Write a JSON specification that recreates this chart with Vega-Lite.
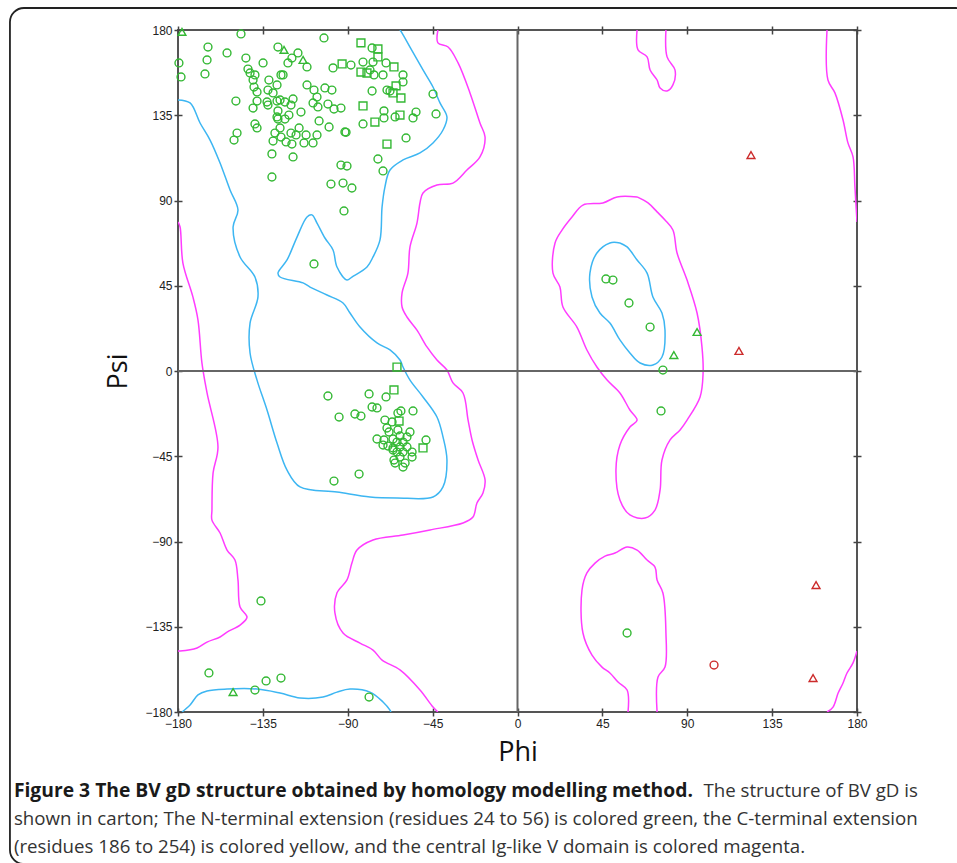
{
  "$schema": "https://vega.github.io/schema/vega-lite/v6.json",
  "width": 679,
  "height": 682,
  "autosize": {"type": "none"},
  "padding": {"left": 178, "top": 30, "right": 100, "bottom": 151},
  "background": "white",
  "config": {
    "view": {"stroke": "#555555", "strokeWidth": 2},
    "axis": {"grid": false}
  },
  "datasets": {
    "contours": [
      {"id":"C1","ord":0,"phi":-180,"psi":143.1},{"id":"C1","ord":1,"phi":-173.6,"psi":141.5},{"id":"C1","ord":2,"phi":-168.3,"psi":130.9},{"id":"C1","ord":3,"phi":-163.0,"psi":121.9},{"id":"C1","ord":4,"phi":-157.7,"psi":109.8},{"id":"C1","ord":5,"phi":-152.4,"psi":95.5},{"id":"C1","ord":6,"phi":-148.2,"psi":85.0},{"id":"C1","ord":7,"phi":-150.8,"psi":76.0},{"id":"C1","ord":8,"phi":-147.1,"psi":60.2},{"id":"C1","ord":9,"phi":-139.2,"psi":49.6},{"id":"C1","ord":10,"phi":-137.6,"psi":39.1},{"id":"C1","ord":11,"phi":-141.8,"psi":25.3},{"id":"C1","ord":12,"phi":-141.8,"psi":9.5},{"id":"C1","ord":13,"phi":-138.1,"psi":-4.8},{"id":"C1","ord":14,"phi":-132.8,"psi":-20.6},{"id":"C1","ord":15,"phi":-127.5,"psi":-38.0},{"id":"C1","ord":16,"phi":-122.2,"psi":-52.3},{"id":"C1","ord":17,"phi":-115.3,"psi":-61.2},{"id":"C1","ord":18,"phi":-95.7,"psi":-63.9},{"id":"C1","ord":19,"phi":-78.2,"psi":-66.5},{"id":"C1","ord":20,"phi":-63.9,"psi":-67.0},{"id":"C1","ord":21,"phi":-44.8,"psi":-66.5},{"id":"C1","ord":22,"phi":-39.5,"psi":-61.2},{"id":"C1","ord":23,"phi":-37.4,"psi":-47.0},{"id":"C1","ord":24,"phi":-39.5,"psi":-34.8},{"id":"C1","ord":25,"phi":-42.7,"psi":-24.3},{"id":"C1","ord":26,"phi":-50.1,"psi":-13.7},{"id":"C1","ord":27,"phi":-57.0,"psi":-4.8},{"id":"C1","ord":28,"phi":-60.7,"psi":2.1},{"id":"C1","ord":29,"phi":-62.3,"psi":5.8},{"id":"C1","ord":30,"phi":-67.6,"psi":11.1},{"id":"C1","ord":31,"phi":-74.5,"psi":14.8},{"id":"C1","ord":32,"phi":-83.5,"psi":23.2},{"id":"C1","ord":33,"phi":-88.8,"psi":30.6},{"id":"C1","ord":34,"phi":-92.5,"psi":35.9},{"id":"C1","ord":35,"phi":-101.0,"psi":40.1},{"id":"C1","ord":36,"phi":-110.0,"psi":44.3},{"id":"C1","ord":37,"phi":-113.7,"psi":46.5},{"id":"C1","ord":38,"phi":-125.9,"psi":49.6},{"id":"C1","ord":39,"phi":-127.0,"psi":51.7},{"id":"C1","ord":40,"phi":-122.2,"psi":58.6},{"id":"C1","ord":41,"phi":-116.9,"psi":70.7},{"id":"C1","ord":42,"phi":-111.6,"psi":81.3},{"id":"C1","ord":43,"phi":-109.0,"psi":82.4},{"id":"C1","ord":44,"phi":-106.3,"psi":78.1},{"id":"C1","ord":45,"phi":-102.1,"psi":70.2},{"id":"C1","ord":46,"phi":-97.8,"psi":63.9},{"id":"C1","ord":47,"phi":-95.7,"psi":54.9},{"id":"C1","ord":48,"phi":-90.4,"psi":48.0},{"id":"C1","ord":49,"phi":-87.8,"psi":49.6},{"id":"C1","ord":50,"phi":-79.8,"psi":54.9},{"id":"C1","ord":51,"phi":-76.6,"psi":60.2},{"id":"C1","ord":52,"phi":-72.9,"psi":69.2},{"id":"C1","ord":53,"phi":-71.8,"psi":86.6},{"id":"C1","ord":54,"phi":-70.3,"psi":97.1},{"id":"C1","ord":55,"phi":-67.6,"psi":106.1},{"id":"C1","ord":56,"phi":-60.7,"psi":111.4},{"id":"C1","ord":57,"phi":-51.7,"psi":115.1},{"id":"C1","ord":58,"phi":-44.8,"psi":120.4},{"id":"C1","ord":59,"phi":-39.5,"psi":127.2},{"id":"C1","ord":60,"phi":-37.4,"psi":134.1},{"id":"C1","ord":61,"phi":-41.1,"psi":141.5},{"id":"C1","ord":62,"phi":-44.8,"psi":149.9},{"id":"C1","ord":63,"phi":-50.1,"psi":158.9},{"id":"C1","ord":64,"phi":-57.0,"psi":171.0},{"id":"C1","ord":65,"phi":-61.2,"psi":178.4},{"id":"C1","ord":66,"phi":-62.3,"psi":180},
      {"id":"C2","ord":0,"phi":-177.9,"psi":-180},{"id":"C2","ord":1,"phi":-173.6,"psi":-176.3},{"id":"C2","ord":2,"phi":-169.4,"psi":-171.0},{"id":"C2","ord":3,"phi":-164.6,"psi":-168.9},{"id":"C2","ord":4,"phi":-154.0,"psi":-167.9},{"id":"C2","ord":5,"phi":-138.1,"psi":-167.9},{"id":"C2","ord":6,"phi":-125.9,"psi":-170.0},{"id":"C2","ord":7,"phi":-115.3,"psi":-172.6},{"id":"C2","ord":8,"phi":-103.1,"psi":-172.1},{"id":"C2","ord":9,"phi":-95.7,"psi":-169.5},{"id":"C2","ord":10,"phi":-88.8,"psi":-167.9},{"id":"C2","ord":11,"phi":-78.2,"psi":-169.5},{"id":"C2","ord":12,"phi":-71.3,"psi":-174.7},{"id":"C2","ord":13,"phi":-67.6,"psi":-179.0},{"id":"C2","ord":14,"phi":-67.1,"psi":-180},
      {"id":"C3","ord":0,"phi":54.3,"psi":67.6},{"id":"C3","ord":1,"phi":49.0,"psi":67.6},{"id":"C3","ord":2,"phi":42.1,"psi":62.3},{"id":"C3","ord":3,"phi":38.4,"psi":51.7},{"id":"C3","ord":4,"phi":39.5,"psi":39.1},{"id":"C3","ord":5,"phi":43.7,"psi":30.6},{"id":"C3","ord":6,"phi":49.0,"psi":25.3},{"id":"C3","ord":7,"phi":54.3,"psi":16.4},{"id":"C3","ord":8,"phi":59.6,"psi":9.5},{"id":"C3","ord":9,"phi":65.0,"psi":4.2},{"id":"C3","ord":10,"phi":71.8,"psi":3.2},{"id":"C3","ord":11,"phi":76.6,"psi":7.4},{"id":"C3","ord":12,"phi":78.2,"psi":21.6},{"id":"C3","ord":13,"phi":76.6,"psi":30.6},{"id":"C3","ord":14,"phi":71.8,"psi":39.1},{"id":"C3","ord":15,"phi":68.7,"psi":51.7},{"id":"C3","ord":16,"phi":63.4,"psi":58.6},{"id":"C3","ord":17,"phi":58.1,"psi":65.5},{"id":"C3","ord":18,"phi":54.3,"psi":67.6},
      {"id":"M1","ord":0,"phi":-180,"psi":78.7},{"id":"M1","ord":1,"phi":-178.9,"psi":76.0},{"id":"M1","ord":2,"phi":-177.4,"psi":57.0},{"id":"M1","ord":3,"phi":-172.1,"psi":39.1},{"id":"M1","ord":4,"phi":-169.4,"psi":26.9},{"id":"M1","ord":5,"phi":-167.3,"psi":4.2},{"id":"M1","ord":6,"phi":-164.6,"psi":-11.6},{"id":"M1","ord":7,"phi":-158.8,"psi":-40.1},{"id":"M1","ord":8,"phi":-161.4,"psi":-53.8},{"id":"M1","ord":9,"phi":-162.0,"psi":-73.4},{"id":"M1","ord":10,"phi":-162.0,"psi":-78.7},{"id":"M1","ord":11,"phi":-157.7,"psi":-85.5},{"id":"M1","ord":12,"phi":-154.0,"psi":-94.5},{"id":"M1","ord":13,"phi":-149.8,"psi":-99.8},{"id":"M1","ord":14,"phi":-148.2,"psi":-110.3},{"id":"M1","ord":15,"phi":-147.1,"psi":-124.6},{"id":"M1","ord":16,"phi":-143.4,"psi":-129.9},{"id":"M1","ord":17,"phi":-147.1,"psi":-134.1},{"id":"M1","ord":18,"phi":-154.0,"psi":-137.8},{"id":"M1","ord":19,"phi":-157.7,"psi":-140.4},{"id":"M1","ord":20,"phi":-164.6,"psi":-143.1},{"id":"M1","ord":21,"phi":-169.9,"psi":-146.2},{"id":"M1","ord":22,"phi":-178.9,"psi":-147.8},{"id":"M1","ord":23,"phi":-180,"psi":-147.8},
      {"id":"M2","ord":0,"phi":-42.2,"psi":180},{"id":"M2","ord":1,"phi":-42.2,"psi":173.2},{"id":"M2","ord":2,"phi":-36.8,"psi":171.0},{"id":"M2","ord":3,"phi":-31.5,"psi":162.6},{"id":"M2","ord":4,"phi":-25.2,"psi":146.8},{"id":"M2","ord":5,"phi":-19.9,"psi":130.9},{"id":"M2","ord":6,"phi":-17.2,"psi":123.5},{"id":"M2","ord":7,"phi":-19.9,"psi":113.0},{"id":"M2","ord":8,"phi":-26.8,"psi":106.1},{"id":"M2","ord":9,"phi":-34.2,"psi":99.2},{"id":"M2","ord":10,"phi":-42.7,"psi":98.2},{"id":"M2","ord":11,"phi":-50.1,"psi":94.0},{"id":"M2","ord":12,"phi":-51.7,"psi":88.7},{"id":"M2","ord":13,"phi":-53.3,"psi":78.1},{"id":"M2","ord":14,"phi":-57.0,"psi":65.5},{"id":"M2","ord":15,"phi":-58.1,"psi":51.7},{"id":"M2","ord":16,"phi":-61.2,"psi":41.2},{"id":"M2","ord":17,"phi":-61.2,"psi":33.8},{"id":"M2","ord":18,"phi":-58.6,"psi":28.5},{"id":"M2","ord":19,"phi":-53.3,"psi":21.6},{"id":"M2","ord":20,"phi":-48.0,"psi":12.7},{"id":"M2","ord":21,"phi":-42.7,"psi":5.8},{"id":"M2","ord":22,"phi":-37.4,"psi":0.5},{"id":"M2","ord":23,"phi":-34.2,"psi":-6.3},{"id":"M2","ord":24,"phi":-28.9,"psi":-11.6},{"id":"M2","ord":25,"phi":-26.2,"psi":-25.9},{"id":"M2","ord":26,"phi":-24.1,"psi":-36.4},{"id":"M2","ord":27,"phi":-20.9,"psi":-47.0},{"id":"M2","ord":28,"phi":-17.2,"psi":-57.5},{"id":"M2","ord":29,"phi":-18.3,"psi":-64.4},{"id":"M2","ord":30,"phi":-21.5,"psi":-69.7},{"id":"M2","ord":31,"phi":-23.6,"psi":-77.1},{"id":"M2","ord":32,"phi":-28.9,"psi":-80.2},{"id":"M2","ord":33,"phi":-46.4,"psi":-83.9},{"id":"M2","ord":34,"phi":-60.7,"psi":-86.6},{"id":"M2","ord":35,"phi":-76.6,"psi":-89.2},{"id":"M2","ord":36,"phi":-85.1,"psi":-94.5},{"id":"M2","ord":37,"phi":-87.8,"psi":-101.4},{"id":"M2","ord":38,"phi":-90.4,"psi":-110.3},{"id":"M2","ord":39,"phi":-95.7,"psi":-117.1},{"id":"M2","ord":40,"phi":-96.8,"psi":-127.7},{"id":"M2","ord":41,"phi":-92.5,"psi":-138.3},{"id":"M2","ord":42,"phi":-83.5,"psi":-143.6},{"id":"M2","ord":43,"phi":-76.6,"psi":-147.3},{"id":"M2","ord":44,"phi":-71.8,"psi":-152.6},{"id":"M2","ord":45,"phi":-62.3,"psi":-157.8},{"id":"M2","ord":46,"phi":-51.7,"psi":-168.4},{"id":"M2","ord":47,"phi":-44.8,"psi":-177.4},{"id":"M2","ord":48,"phi":-42.2,"psi":-180},
      {"id":"M3","ord":0,"phi":164.1,"psi":180},{"id":"M3","ord":1,"phi":164.6,"psi":153.6},{"id":"M3","ord":2,"phi":168.3,"psi":146.8},{"id":"M3","ord":3,"phi":172.6,"psi":132.5},{"id":"M3","ord":4,"phi":175.2,"psi":120.4},{"id":"M3","ord":5,"phi":177.9,"psi":113.0},{"id":"M3","ord":6,"phi":178.9,"psi":97.1},{"id":"M3","ord":7,"phi":180,"psi":78.7},
      {"id":"M4","ord":0,"phi":63.4,"psi":180},{"id":"M4","ord":1,"phi":63.9,"psi":169.5},{"id":"M4","ord":2,"phi":68.7,"psi":165.8},{"id":"M4","ord":3,"phi":70.3,"psi":158.9},{"id":"M4","ord":4,"phi":74.0,"psi":153.6},{"id":"M4","ord":5,"phi":75.6,"psi":149.4},{"id":"M4","ord":6,"phi":79.3,"psi":147.8},{"id":"M4","ord":7,"phi":82.4,"psi":151.0},{"id":"M4","ord":8,"phi":83.5,"psi":158.9},{"id":"M4","ord":9,"phi":79.3,"psi":165.8},{"id":"M4","ord":10,"phi":78.7,"psi":180},
      {"id":"M5","ord":0,"phi":58.6,"psi":-180},{"id":"M5","ord":1,"phi":58.1,"psi":-168.4},{"id":"M5","ord":2,"phi":53.3,"psi":-164.2},{"id":"M5","ord":3,"phi":49.0,"psi":-159.4},{"id":"M5","ord":4,"phi":44.8,"psi":-156.3},{"id":"M5","ord":5,"phi":39.5,"psi":-150.0},{"id":"M5","ord":6,"phi":34.7,"psi":-138.3},{"id":"M5","ord":7,"phi":34.2,"psi":-115.6},{"id":"M5","ord":8,"phi":36.8,"psi":-106.6},{"id":"M5","ord":9,"phi":41.1,"psi":-101.4},{"id":"M5","ord":10,"phi":46.4,"psi":-97.7},{"id":"M5","ord":11,"phi":51.7,"psi":-96.1},{"id":"M5","ord":12,"phi":58.1,"psi":-92.9},{"id":"M5","ord":13,"phi":63.4,"psi":-94.5},{"id":"M5","ord":14,"phi":68.7,"psi":-99.8},{"id":"M5","ord":15,"phi":72.9,"psi":-103.5},{"id":"M5","ord":16,"phi":74.0,"psi":-110.3},{"id":"M5","ord":17,"phi":77.1,"psi":-117.2},{"id":"M5","ord":18,"phi":78.7,"psi":-138.3},{"id":"M5","ord":19,"phi":78.2,"psi":-156.3},{"id":"M5","ord":20,"phi":74.5,"psi":-161.5},{"id":"M5","ord":21,"phi":74.0,"psi":-180},
      {"id":"M6","ord":0,"phi":164.1,"psi":-180},{"id":"M6","ord":1,"phi":167.3,"psi":-177.4},{"id":"M6","ord":2,"phi":170.0,"psi":-170.0},{"id":"M6","ord":3,"phi":172.6,"psi":-164.7},{"id":"M6","ord":4,"phi":174.7,"psi":-159.4},{"id":"M6","ord":5,"phi":177.9,"psi":-154.1},{"id":"M6","ord":6,"phi":180,"psi":-147.8},
      {"id":"M7","ord":0,"phi":63.4,"psi":91.9},{"id":"M7","ord":1,"phi":69.2,"psi":88.7},{"id":"M7","ord":2,"phi":74.0,"psi":84.0},{"id":"M7","ord":3,"phi":78.2,"psi":79.7},{"id":"M7","ord":4,"phi":82.4,"psi":74.4},{"id":"M7","ord":5,"phi":84.6,"psi":62.3},{"id":"M7","ord":6,"phi":89.9,"psi":48.0},{"id":"M7","ord":7,"phi":95.2,"psi":30.6},{"id":"M7","ord":8,"phi":97.8,"psi":12.7},{"id":"M7","ord":9,"phi":98.4,"psi":-1.1},{"id":"M7","ord":10,"phi":96.8,"psi":-13.7},{"id":"M7","ord":11,"phi":89.9,"psi":-25.9},{"id":"M7","ord":12,"phi":86.2,"psi":-31.1},{"id":"M7","ord":13,"phi":80.9,"psi":-36.4},{"id":"M7","ord":14,"phi":76.6,"psi":-47.0},{"id":"M7","ord":15,"phi":75.6,"psi":-62.8},{"id":"M7","ord":16,"phi":72.9,"psi":-73.4},{"id":"M7","ord":17,"phi":67.6,"psi":-77.6},{"id":"M7","ord":18,"phi":59.6,"psi":-76.0},{"id":"M7","ord":19,"phi":54.3,"psi":-68.1},{"id":"M7","ord":20,"phi":52.2,"psi":-52.3},{"id":"M7","ord":21,"phi":54.3,"psi":-39.1},{"id":"M7","ord":22,"phi":59.6,"psi":-29.6},{"id":"M7","ord":23,"phi":63.4,"psi":-25.9},{"id":"M7","ord":24,"phi":59.6,"psi":-20.6},{"id":"M7","ord":25,"phi":54.3,"psi":-11.6},{"id":"M7","ord":26,"phi":47.5,"psi":-4.8},{"id":"M7","ord":27,"phi":42.1,"psi":2.1},{"id":"M7","ord":28,"phi":36.8,"psi":11.1},{"id":"M7","ord":29,"phi":31.5,"psi":23.2},{"id":"M7","ord":30,"phi":24.1,"psi":33.8},{"id":"M7","ord":31,"phi":22.5,"psi":44.3},{"id":"M7","ord":32,"phi":18.8,"psi":51.7},{"id":"M7","ord":33,"phi":19.9,"psi":67.6},{"id":"M7","ord":34,"phi":23.6,"psi":74.4},{"id":"M7","ord":35,"phi":28.9,"psi":81.3},{"id":"M7","ord":36,"phi":34.7,"psi":87.6},{"id":"M7","ord":37,"phi":45.3,"psi":88.7},{"id":"M7","ord":38,"phi":52.8,"psi":91.9},{"id":"M7","ord":39,"phi":63.4,"psi":91.9}
    ],
    "points": [
      {"phi":-179.5,"psi":162.6,"s":"circle","g":"g"},{"phi":-178.4,"psi":155.2,"s":"circle","g":"g"},{"phi":-165.7,"psi":156.8,"s":"circle","g":"g"},{"phi":-164.6,"psi":164.2,"s":"circle","g":"g"},{"phi":-164.1,"psi":171.0,"s":"circle","g":"g"},{"phi":-154.0,"psi":167.9,"s":"circle","g":"g"},{"phi":-146.6,"psi":177.9,"s":"circle","g":"g"},{"phi":-149.3,"psi":142.5,"s":"circle","g":"g"},{"phi":-148.7,"psi":125.6,"s":"circle","g":"g"},{"phi":-150.3,"psi":121.9,"s":"circle","g":"g"},
      {"phi":-144.0,"psi":165.2,"s":"circle","g":"g"},{"phi":-142.9,"psi":159.4,"s":"circle","g":"g"},{"phi":-141.8,"psi":157.3,"s":"circle","g":"g"},{"phi":-139.2,"psi":156.3,"s":"circle","g":"g"},{"phi":-140.2,"psi":153.6,"s":"circle","g":"g"},{"phi":-139.7,"psi":149.9,"s":"circle","g":"g"},{"phi":-138.1,"psi":147.3,"s":"circle","g":"g"},{"phi":-138.1,"psi":142.5,"s":"circle","g":"g"},{"phi":-140.2,"psi":138.8,"s":"circle","g":"g"},{"phi":-139.2,"psi":130.4,"s":"circle","g":"g"},
      {"phi":-138.1,"psi":128.3,"s":"circle","g":"g"},{"phi":-134.9,"psi":162.6,"s":"circle","g":"g"},{"phi":-131.8,"psi":153.6,"s":"circle","g":"g"},{"phi":-132.3,"psi":148.3,"s":"circle","g":"g"},{"phi":-129.6,"psi":146.8,"s":"circle","g":"g"},{"phi":-127.5,"psi":151.0,"s":"circle","g":"g"},{"phi":-127.0,"psi":171.0,"s":"circle","g":"g"},{"phi":-121.7,"psi":162.6,"s":"circle","g":"g"},{"phi":-119.6,"psi":165.2,"s":"circle","g":"g"},{"phi":-116.4,"psi":167.9,"s":"circle","g":"g"},
      {"phi":-111.6,"psi":160.5,"s":"circle","g":"g"},{"phi":-125.4,"psi":156.3,"s":"circle","g":"g"},{"phi":-124.3,"psi":156.3,"s":"circle","g":"g"},{"phi":-132.8,"psi":142.0,"s":"circle","g":"g"},{"phi":-132.3,"psi":140.4,"s":"circle","g":"g"},{"phi":-127.5,"psi":142.5,"s":"circle","g":"g"},{"phi":-125.9,"psi":143.1,"s":"circle","g":"g"},{"phi":-123.3,"psi":142.0,"s":"circle","g":"g"},{"phi":-119.0,"psi":143.6,"s":"circle","g":"g"},{"phi":-120.1,"psi":140.4,"s":"circle","g":"g"},
      {"phi":-127.0,"psi":137.3,"s":"circle","g":"g"},{"phi":-127.5,"psi":134.1,"s":"circle","g":"g"},{"phi":-127.0,"psi":133.0,"s":"circle","g":"g"},{"phi":-123.3,"psi":133.0,"s":"circle","g":"g"},{"phi":-121.2,"psi":135.1,"s":"circle","g":"g"},{"phi":-125.9,"psi":128.3,"s":"circle","g":"g"},{"phi":-114.8,"psi":136.7,"s":"circle","g":"g"},{"phi":-128.6,"psi":125.6,"s":"circle","g":"g"},{"phi":-129.6,"psi":121.4,"s":"circle","g":"g"},{"phi":-125.4,"psi":123.5,"s":"circle","g":"g"},
      {"phi":-122.7,"psi":120.9,"s":"circle","g":"g"},{"phi":-119.6,"psi":119.8,"s":"circle","g":"g"},{"phi":-120.1,"psi":125.6,"s":"circle","g":"g"},{"phi":-117.4,"psi":124.6,"s":"circle","g":"g"},{"phi":-115.8,"psi":128.3,"s":"circle","g":"g"},{"phi":-113.2,"psi":120.4,"s":"circle","g":"g"},{"phi":-112.1,"psi":124.6,"s":"circle","g":"g"},{"phi":-108.4,"psi":120.4,"s":"circle","g":"g"},{"phi":-106.3,"psi":124.6,"s":"circle","g":"g"},{"phi":-105.2,"psi":132.0,"s":"circle","g":"g"},
      {"phi":-99.9,"psi":128.8,"s":"circle","g":"g"},{"phi":-111.6,"psi":151.0,"s":"circle","g":"g"},{"phi":-107.9,"psi":148.3,"s":"circle","g":"g"},{"phi":-106.3,"psi":144.6,"s":"circle","g":"g"},{"phi":-108.4,"psi":141.5,"s":"circle","g":"g"},{"phi":-105.8,"psi":139.4,"s":"circle","g":"g"},{"phi":-102.1,"psi":149.4,"s":"circle","g":"g"},{"phi":-98.4,"psi":148.3,"s":"circle","g":"g"},{"phi":-100.5,"psi":140.9,"s":"circle","g":"g"},{"phi":-97.3,"psi":138.3,"s":"circle","g":"g"},
      {"phi":-93.6,"psi":138.8,"s":"circle","g":"g"},{"phi":-102.6,"psi":175.8,"s":"circle","g":"g"},{"phi":-97.8,"psi":160.0,"s":"circle","g":"g"},{"phi":-88.3,"psi":161.5,"s":"circle","g":"g"},{"phi":-91.5,"psi":126.2,"s":"circle","g":"g"},{"phi":-90.9,"psi":126.0,"s":"circle","g":"g"},{"phi":-81.9,"psi":163.1,"s":"circle","g":"g"},{"phi":-77.1,"psi":170.5,"s":"circle","g":"g"},{"phi":-76.6,"psi":163.1,"s":"circle","g":"g"},{"phi":-78.2,"psi":158.9,"s":"circle","g":"g"},
      {"phi":-76.1,"psi":156.3,"s":"circle","g":"g"},{"phi":-71.3,"psi":156.3,"s":"circle","g":"g"},{"phi":-69.7,"psi":162.6,"s":"circle","g":"g"},{"phi":-60.7,"psi":156.3,"s":"circle","g":"g"},{"phi":-60.7,"psi":152.6,"s":"circle","g":"g"},{"phi":-77.1,"psi":147.8,"s":"circle","g":"g"},{"phi":-69.2,"psi":148.3,"s":"circle","g":"g"},{"phi":-67.6,"psi":147.8,"s":"circle","g":"g"},{"phi":-70.8,"psi":137.3,"s":"circle","g":"g"},{"phi":-70.8,"psi":133.6,"s":"circle","g":"g"},
      {"phi":-81.9,"psi":130.4,"s":"circle","g":"g"},{"phi":-64.9,"psi":134.1,"s":"circle","g":"g"},{"phi":-53.8,"psi":136.7,"s":"circle","g":"g"},{"phi":-55.4,"psi":133.6,"s":"circle","g":"g"},{"phi":-44.8,"psi":146.2,"s":"circle","g":"g"},{"phi":-43.2,"psi":135.7,"s":"circle","g":"g"},{"phi":-59.1,"psi":123.0,"s":"circle","g":"g"},{"phi":-74.0,"psi":111.9,"s":"circle","g":"g"},{"phi":-71.3,"psi":105.6,"s":"circle","g":"g"},{"phi":-130.2,"psi":114.6,"s":"circle","g":"g"},
      {"phi":-119.0,"psi":113.0,"s":"circle","g":"g"},{"phi":-130.2,"psi":102.4,"s":"circle","g":"g"},{"phi":-93.6,"psi":108.7,"s":"circle","g":"g"},{"phi":-90.4,"psi":108.2,"s":"circle","g":"g"},{"phi":-98.9,"psi":98.7,"s":"circle","g":"g"},{"phi":-92.5,"psi":99.2,"s":"circle","g":"g"},{"phi":-87.8,"psi":96.6,"s":"circle","g":"g"},{"phi":-92.0,"psi":84.5,"s":"circle","g":"g"},{"phi":-107.9,"psi":56.5,"s":"circle","g":"g"},
      {"phi":-83.0,"psi":173.2,"s":"square","g":"g"},{"phi":-74.0,"psi":170.0,"s":"square","g":"g"},{"phi":-74.0,"psi":165.8,"s":"square","g":"g"},{"phi":-93.0,"psi":162.1,"s":"square","g":"g"},{"phi":-83.0,"psi":157.8,"s":"square","g":"g"},{"phi":-79.8,"psi":157.3,"s":"square","g":"g"},{"phi":-65.5,"psi":160.5,"s":"square","g":"g"},{"phi":-64.4,"psi":150.5,"s":"square","g":"g"},{"phi":-66.0,"psi":146.8,"s":"square","g":"g"},{"phi":-61.8,"psi":144.1,"s":"square","g":"g"},{"phi":-81.9,"psi":139.9,"s":"square","g":"g"},{"phi":-75.6,"psi":131.4,"s":"square","g":"g"},{"phi":-62.3,"psi":135.1,"s":"square","g":"g"},{"phi":-69.2,"psi":119.8,"s":"square","g":"g"},
      {"phi":-177.9,"psi":179.0,"s":"triangle-up","g":"g"},{"phi":-123.8,"psi":169.5,"s":"triangle-up","g":"g"},{"phi":-113.7,"psi":164.2,"s":"triangle-up","g":"g"},
      {"phi":-63.9,"psi":2.1,"s":"square","g":"g"},{"phi":-65.5,"psi":-10.0,"s":"square","g":"g"},{"phi":-62.8,"psi":-26.4,"s":"square","g":"g"},{"phi":-50.1,"psi":-40.6,"s":"square","g":"g"},
      {"phi":-100.5,"psi":-13.2,"s":"circle","g":"g"},{"phi":-78.7,"psi":-12.1,"s":"circle","g":"g"},{"phi":-69.7,"psi":-13.7,"s":"circle","g":"g"},{"phi":-77.1,"psi":-19.0,"s":"circle","g":"g"},{"phi":-74.5,"psi":-19.5,"s":"circle","g":"g"},{"phi":-86.2,"psi":-22.7,"s":"circle","g":"g"},{"phi":-83.0,"psi":-23.8,"s":"circle","g":"g"},{"phi":-94.6,"psi":-24.3,"s":"circle","g":"g"},{"phi":-55.4,"psi":-21.1,"s":"circle","g":"g"},{"phi":-63.4,"psi":-22.2,"s":"circle","g":"g"},
      {"phi":-61.8,"psi":-21.1,"s":"circle","g":"g"},{"phi":-70.3,"psi":-25.9,"s":"circle","g":"g"},{"phi":-66.5,"psi":-26.9,"s":"circle","g":"g"},{"phi":-69.2,"psi":-30.1,"s":"circle","g":"g"},{"phi":-68.1,"psi":-32.2,"s":"circle","g":"g"},{"phi":-63.4,"psi":-31.1,"s":"circle","g":"g"},{"phi":-57.0,"psi":-32.2,"s":"circle","g":"g"},{"phi":-62.3,"psi":-34.3,"s":"circle","g":"g"},{"phi":-58.6,"psi":-34.8,"s":"circle","g":"g"},{"phi":-74.5,"psi":-35.9,"s":"circle","g":"g"},
      {"phi":-70.8,"psi":-36.4,"s":"circle","g":"g"},{"phi":-66.0,"psi":-35.9,"s":"circle","g":"g"},{"phi":-63.9,"psi":-37.5,"s":"circle","g":"g"},{"phi":-60.7,"psi":-37.5,"s":"circle","g":"g"},{"phi":-48.5,"psi":-36.4,"s":"circle","g":"g"},{"phi":-71.3,"psi":-39.1,"s":"circle","g":"g"},{"phi":-68.7,"psi":-39.6,"s":"circle","g":"g"},{"phi":-66.0,"psi":-40.6,"s":"circle","g":"g"},{"phi":-62.3,"psi":-40.1,"s":"circle","g":"g"},{"phi":-58.6,"psi":-40.1,"s":"circle","g":"g"},
      {"phi":-63.9,"psi":-42.8,"s":"circle","g":"g"},{"phi":-60.7,"psi":-42.8,"s":"circle","g":"g"},{"phi":-55.9,"psi":-42.8,"s":"circle","g":"g"},{"phi":-66.0,"psi":-41.7,"s":"circle","g":"g"},{"phi":-62.3,"psi":-45.4,"s":"circle","g":"g"},{"phi":-55.9,"psi":-45.4,"s":"circle","g":"g"},{"phi":-65.5,"psi":-47.0,"s":"circle","g":"g"},{"phi":-64.9,"psi":-48.6,"s":"circle","g":"g"},{"phi":-59.6,"psi":-48.6,"s":"circle","g":"g"},{"phi":-60.7,"psi":-50.7,"s":"circle","g":"g"},
      {"phi":-84.0,"psi":-54.4,"s":"circle","g":"g"},{"phi":-97.3,"psi":-58.1,"s":"circle","g":"g"},
      {"phi":46.9,"psi":48.6,"s":"circle","g":"g"},{"phi":50.6,"psi":48.0,"s":"circle","g":"g"},{"phi":59.1,"psi":35.9,"s":"circle","g":"g"},{"phi":70.3,"psi":23.2,"s":"circle","g":"g"},{"phi":77.1,"psi":0.5,"s":"circle","g":"g"},{"phi":76.1,"psi":-21.1,"s":"circle","g":"g"},
      {"phi":82.9,"psi":8.4,"s":"triangle-up","g":"g"},{"phi":95.2,"psi":20.6,"s":"triangle-up","g":"g"},
      {"phi":58.1,"psi":-138.3,"s":"circle","g":"g"},{"phi":-136.0,"psi":-121.4,"s":"circle","g":"g"},
      {"phi":-163.6,"psi":-159.4,"s":"circle","g":"g"},{"phi":-133.3,"psi":-163.6,"s":"circle","g":"g"},{"phi":-125.4,"psi":-162.1,"s":"circle","g":"g"},{"phi":-139.2,"psi":-168.4,"s":"circle","g":"g"},{"phi":-78.7,"psi":-172.1,"s":"circle","g":"g"},{"phi":-150.8,"psi":-169.5,"s":"triangle-up","g":"g"},
      {"phi":123.8,"psi":114.0,"s":"triangle-up","g":"r"},{"phi":117.4,"psi":10.6,"s":"triangle-up","g":"r"},{"phi":158.3,"psi":-113.0,"s":"triangle-up","g":"r"},{"phi":156.7,"psi":-162.1,"s":"triangle-up","g":"r"},{"phi":104.2,"psi":-155.2,"s":"circle","g":"r"}
    ]
  },
  "layer": [
    {
      "data": {"values": [{}]},
      "mark": {"type": "rect", "fill": "white", "fillOpacity": 0, "stroke": "#222222", "strokeWidth": 1.8, "cornerRadius": 14, "clip": false},
      "encoding": {
        "x": {"datum": -269.1, "type": "quantitative", "scale": {"domain": [-180, 180], "nice": false, "zero": false}, "axis": null},
        "x2": {"datum": 240},
        "y": {"datum": 191.6, "type": "quantitative", "scale": {"domain": [-180, 180], "nice": false, "zero": false}, "axis": null},
        "y2": {"datum": -260.2}
      }
    },
    {
      "data": {"name": "contours"},
      "mark": {"type": "line", "strokeWidth": 1.5, "interpolate": "catmull-rom", "clip": true},
      "encoding": {
        "x": {"field": "phi", "type": "quantitative",
          "axis": {"orient": "bottom", "values": [-180, -135, -90, -45, 0, 45, 90, 135, 180], "domain": false, "offset": -4, "tickSize": 8, "tickColor": "#444444", "tickWidth": 1.5, "labelFont": "Liberation Sans", "labelFontSize": 12, "labelColor": "#222222", "labelPadding": 2, "labelFlush": false, "title": "Phi", "titleFont": "Open Sans", "titleFontSize": 27, "titleFontWeight": "normal", "titleColor": "#111111", "titlePadding": 10}},
        "y": {"field": "psi", "type": "quantitative",
          "axis": {"orient": "left", "values": [-180, -135, -90, -45, 0, 45, 90, 135, 180], "domain": false, "offset": -4, "tickSize": 8, "tickColor": "#444444", "tickWidth": 1.5, "labelFont": "Liberation Sans", "labelFontSize": 12, "labelColor": "#222222", "labelPadding": 2, "labelFlush": false, "title": "Psi", "titleFont": "Open Sans", "titleFontSize": 27, "titleFontWeight": "normal", "titleColor": "#111111", "titlePadding": 12}},
        "color": {"field": "id", "type": "nominal", "legend": null,
          "scale": {"domain": ["C1","C2","C3","M1","M2","M3","M4","M5","M6","M7"], "range": ["#3db6f2","#3db6f2","#3db6f2","#ff3cff","#ff3cff","#ff3cff","#ff3cff","#ff3cff","#ff3cff","#ff3cff"]}},
        "order": {"field": "ord", "type": "quantitative"}
      }
    },
    {
      "data": {"values": [{}]},
      "mark": {"type": "rule", "color": "#666666", "strokeWidth": 2},
      "encoding": {"x": {"datum": 0, "type": "quantitative", "axis": null}}
    },
    {
      "data": {"values": [{}]},
      "mark": {"type": "rule", "color": "#666666", "strokeWidth": 2},
      "encoding": {"y": {"datum": 0, "type": "quantitative", "axis": null}}
    },
    {
      "data": {"name": "points"},
      "mark": {"type": "point", "filled": false, "strokeWidth": 1.4, "size": 62, "opacity": 1, "clip": false},
      "encoding": {
        "x": {"field": "phi", "type": "quantitative",
          "axis": {"orient": "top", "values": [-180, -135, -90, -45, 0, 45, 90, 135, 180], "domain": false, "offset": -4, "tickSize": 8, "tickColor": "#444444", "tickWidth": 1.5, "labels": false, "title": null}},
        "y": {"field": "psi", "type": "quantitative",
          "axis": {"orient": "right", "values": [-180, -135, -90, -45, 0, 45, 90, 135, 180], "domain": false, "offset": -4, "tickSize": 8, "tickColor": "#444444", "tickWidth": 1.5, "labels": false, "title": null}},
        "shape": {"field": "s", "type": "nominal", "legend": null, "scale": {"domain": ["circle", "square", "triangle-up"], "range": ["circle", "square", "triangle-up"]}},
        "color": {"field": "g", "type": "nominal", "legend": null, "scale": {"domain": ["g", "r"], "range": ["#33b833", "#cc2b2b"]}}
      }
    },
    {
      "data": {"values": [{}]},
      "mark": {"type": "text", "text": "Figure 3 The BV gD structure obtained by homology modelling method.", "font": "Open Sans", "fontSize": 19.3, "fontWeight": "bold", "color": "#1a1a1a", "align": "left", "baseline": "middle", "clip": false},
      "encoding": {"x": {"datum": -267, "type": "quantitative", "axis": null}, "y": {"datum": -221.6, "type": "quantitative", "axis": null}}
    },
    {
      "data": {"values": [{}]},
      "mark": {"type": "text", "text": "The structure of BV gD is", "font": "Open Sans", "fontSize": 18.7, "color": "#333333", "align": "right", "baseline": "middle", "clip": false},
      "encoding": {"x": {"datum": 212.3, "type": "quantitative", "axis": null}, "y": {"datum": -221.6, "type": "quantitative", "axis": null}}
    },
    {
      "data": {"values": [{}]},
      "mark": {"type": "text", "text": "shown in carton; The N-terminal extension (residues 24 to 56) is colored green, the C-terminal extension", "font": "Open Sans", "fontSize": 18.7, "color": "#333333", "align": "left", "baseline": "middle", "clip": false},
      "encoding": {"x": {"datum": -267, "type": "quantitative", "axis": null}, "y": {"datum": -236.3, "type": "quantitative", "axis": null}}
    },
    {
      "data": {"values": [{}]},
      "mark": {"type": "text", "text": "(residues 186 to 254) is colored yellow, and the central Ig-like V domain is colored magenta.", "font": "Open Sans", "fontSize": 18.7, "color": "#333333", "align": "left", "baseline": "middle", "clip": false},
      "encoding": {"x": {"datum": -267, "type": "quantitative", "axis": null}, "y": {"datum": -251.0, "type": "quantitative", "axis": null}}
    }
  ],
  "resolve": {"axis": {"x": "independent", "y": "independent"}, "scale": {"color": "independent"}}
}
